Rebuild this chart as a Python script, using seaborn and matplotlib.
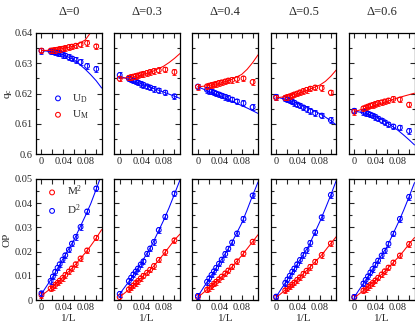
import matplotlib
matplotlib.use('Agg')
import matplotlib.pyplot as plt
import matplotlib.ticker as mticker
import seaborn as sns

deltas = ['0', '0.3', '0.4', '0.5', '0.6']

# 1/L of the simulated sizes (first point is the extrapolated one)
inv_L = [0, 0.0167, 0.0208, 0.025, 0.0294, 0.0333, 0.0385, 0.0435,
         0.05, 0.0556, 0.0625, 0.0714, 0.0833, 0.1]
fit_x = [0, 0.02, 0.04, 0.06, 0.08, 0.09, 0.10, 0.11]

# crossing points q_c from U_D (blue) and U_M (red)
qc_UD = [
    [0.6341, 0.6339, 0.6338, 0.6336, 0.6334, 0.6332, 0.6328, 0.6325, 0.6320, 0.6316, 0.6311, 0.6304, 0.6291, 0.6281],
    [0.6261, 0.6249, 0.6246, 0.6243, 0.6239, 0.6236, 0.6232, 0.6228, 0.6224, 0.6220, 0.6215, 0.6210, 0.6203, 0.6191],
    [0.6223, 0.6212, 0.6209, 0.6206, 0.6203, 0.6200, 0.6197, 0.6193, 0.6189, 0.6185, 0.6180, 0.6174, 0.6168, 0.6155],
    [0.6189, 0.6183, 0.6180, 0.6177, 0.6173, 0.6169, 0.6164, 0.6160, 0.6154, 0.6149, 0.6142, 0.6135, 0.6127, 0.6112],
    [0.6143, 0.6139, 0.6136, 0.6133, 0.6130, 0.6127, 0.6122, 0.6117, 0.6111, 0.6105, 0.6098, 0.6091, 0.6087, 0.6076],
]
qc_UM = [
    [0.6342, 0.6342, 0.6343, 0.6344, 0.6345, 0.6347, 0.6348, 0.6350, 0.6353, 0.6355, 0.6358, 0.6362, 0.6367, 0.6356],
    [0.6249, 0.6252, 0.6254, 0.6256, 0.6258, 0.6260, 0.6263, 0.6265, 0.6268, 0.6271, 0.6274, 0.6277, 0.6279, 0.6271],
    [0.6222, 0.6224, 0.6226, 0.6228, 0.6230, 0.6232, 0.6235, 0.6237, 0.6240, 0.6243, 0.6245, 0.6248, 0.6250, 0.6238],
    [0.6186, 0.6186, 0.6188, 0.6191, 0.6194, 0.6197, 0.6200, 0.6204, 0.6208, 0.6212, 0.6216, 0.6220, 0.6218, 0.6203],
    [0.6139, 0.6151, 0.6154, 0.6157, 0.6160, 0.6162, 0.6165, 0.6168, 0.6171, 0.6174, 0.6177, 0.6182, 0.6180, 0.6163],
]
qc_UD_fit = [
    [0.6342, 0.6338, 0.6328, 0.6311, 0.6280, 0.6262, 0.6242, 0.6218],
    [0.6257, 0.6245, 0.6232, 0.6218, 0.6205, 0.6198, 0.6191, 0.6184],
    [0.6222, 0.6207, 0.6192, 0.6176, 0.6160, 0.6152, 0.6143, 0.6134],
    [0.6188, 0.6180, 0.6167, 0.6152, 0.6133, 0.6122, 0.6110, 0.6096],
    [0.6142, 0.6135, 0.6123, 0.6104, 0.6078, 0.6063, 0.6047, 0.6030],
]
qc_UM_fit = [
    [0.6342, 0.6343, 0.6349, 0.6357, 0.6377, 0.6402, 0.6430, 0.6462],
    [0.6250, 0.6253, 0.6261, 0.6273, 0.6290, 0.6302, 0.6316, 0.6332],
    [0.6222, 0.6226, 0.6234, 0.6245, 0.6263, 0.6280, 0.6302, 0.6328],
    [0.6186, 0.6190, 0.6200, 0.6213, 0.6228, 0.6240, 0.6257, 0.6278],
    [0.6140, 0.6151, 0.6162, 0.6174, 0.6186, 0.6191, 0.6196, 0.6201],
]

# order parameters D^2 (blue) and M^2 (red)
op_D2 = [
    [0.0028, 0.0079, 0.0097, 0.0116, 0.0133, 0.0148, 0.0167, 0.0185, 0.0208, 0.0233, 0.0261, 0.0302, 0.0366, 0.0461],
    [0.0025, 0.0078, 0.0092, 0.0106, 0.0118, 0.0130, 0.0147, 0.0160, 0.0191, 0.0213, 0.0240, 0.0289, 0.0344, 0.0440],
    [0.0017, 0.0075, 0.0090, 0.0104, 0.0119, 0.0133, 0.0150, 0.0167, 0.0190, 0.0212, 0.0238, 0.0275, 0.0335, 0.0432],
    [0.0014, 0.0070, 0.0085, 0.0100, 0.0117, 0.0130, 0.0148, 0.0165, 0.0186, 0.0207, 0.0236, 0.0280, 0.0342, 0.0434],
    [0.0013, 0.0068, 0.0083, 0.0098, 0.0114, 0.0128, 0.0146, 0.0163, 0.0184, 0.0204, 0.0232, 0.0274, 0.0335, 0.0426],
]
op_M2 = [
    [0.0020, 0.0048, 0.0054, 0.0062, 0.0071, 0.0080, 0.0091, 0.0103, 0.0118, 0.0131, 0.0148, 0.0172, 0.0205, 0.0257],
    [0.0012, 0.0044, 0.0052, 0.0060, 0.0070, 0.0078, 0.0090, 0.0100, 0.0113, 0.0125, 0.0140, 0.0166, 0.0198, 0.0247],
    [0.0012, 0.0042, 0.0050, 0.0058, 0.0067, 0.0075, 0.0086, 0.0097, 0.0110, 0.0122, 0.0138, 0.0160, 0.0192, 0.0241],
    [0.0011, 0.0040, 0.0048, 0.0056, 0.0064, 0.0072, 0.0083, 0.0094, 0.0108, 0.0121, 0.0137, 0.0158, 0.0186, 0.0234],
    [0.0010, 0.0039, 0.0046, 0.0054, 0.0062, 0.0070, 0.0081, 0.0092, 0.0106, 0.0119, 0.0134, 0.0155, 0.0184, 0.0231],
]
op_D2_fit = [
    [0.0025, 0.0094, 0.0173, 0.0251, 0.0347, 0.0398, 0.0458, 0.0520],
    [0.0025, 0.0086, 0.0155, 0.0233, 0.0328, 0.0380, 0.0437, 0.0495],
    [0.0015, 0.0086, 0.0156, 0.0228, 0.0317, 0.0373, 0.0432, 0.0488],
    [0.0013, 0.0082, 0.0153, 0.0225, 0.0324, 0.0378, 0.0434, 0.0494],
    [0.0012, 0.0080, 0.0151, 0.0221, 0.0318, 0.0370, 0.0426, 0.0485],
]
op_M2_fit = [
    [0.0018, 0.0053, 0.0096, 0.0141, 0.0195, 0.0224, 0.0256, 0.0291],
    [0.0012, 0.0049, 0.0093, 0.0134, 0.0189, 0.0218, 0.0248, 0.0272],
    [0.0011, 0.0049, 0.0089, 0.0131, 0.0183, 0.0212, 0.0241, 0.0270],
    [0.0010, 0.0047, 0.0087, 0.0131, 0.0178, 0.0205, 0.0234, 0.0262],
    [0.0009, 0.0045, 0.0085, 0.0128, 0.0176, 0.0202, 0.0231, 0.0258],
]
qc_err = 0.0009
op_err = 0.0011

BLUE = '#0000ff'
RED = '#ff0000'


def draw_series(ax, x, y, err, fx, fy, color, label=None):
    sns.lineplot(x=fx, y=fy, ax=ax, color=color, linewidth=0.75, sort=False, estimator=None)
    ax.errorbar(x, y, yerr=err, fmt='none', ecolor=color, elinewidth=0.6, capsize=1.4, capthick=0.6)
    sns.scatterplot(x=x, y=y, ax=ax, marker='o', s=12, fc='none', ec=color, linewidth=0.75,
                    label=label, legend=False)


def style_axes(ax, yticks, ylabels, ylim, show_y):
    ax.set_xlim(-0.01, 0.11)
    ax.set_ylim(*ylim)
    ax.set_xticks([0, 0.02, 0.04, 0.06, 0.08, 0.10])
    ax.set_xticklabels(['0', '', '0.04', '', '0.08', ''])
    ax.set_yticks(yticks)
    ax.yaxis.set_minor_locator(mticker.MultipleLocator(0.005))
    if show_y:
        ax.set_yticklabels(ylabels)
    else:
        ax.set_yticklabels([])
    ax.tick_params(which='both', direction='in', top=True, right=True, width=0.8,
                   labelsize=7.5, pad=2.5)
    ax.tick_params(which='major', length=3.6)
    ax.tick_params(which='minor', length=2.2)
    for sp in ax.spines.values():
        sp.set_linewidth(0.9)
        sp.set_color('black')
    ax.set_xlabel('')
    ax.set_ylabel('')


def main():
    sns.set_style('ticks')
    plt.rcParams['font.family'] = ['Liberation Serif', 'DejaVu Serif']
    plt.rcParams['mathtext.fontset'] = 'custom'
    plt.rcParams['mathtext.rm'] = 'Liberation Serif'
    plt.rcParams['mathtext.it'] = 'Liberation Serif:italic'

    W, H = 415, 323
    fig = plt.figure(figsize=(W / 100, H / 100), dpi=100)

    qc_ticks = [0.6, 0.61, 0.62, 0.63, 0.64]
    qc_labels = ['0.6', '0.61', '0.62', '0.63', '0.64']
    op_ticks = [0, 0.01, 0.02, 0.03, 0.04, 0.05]
    op_labels = ['0', '0.01', '0.02', '0.03', '0.04', '0.05']

    for i, d in enumerate(deltas):
        left = (36 + 78.2 * i) / W
        ax_t = fig.add_axes([left, 1 - 154 / H, 65.7 / W, 121 / H])
        ax_b = fig.add_axes([left, 1 - 300 / H, 65.7 / W, 121 / H])

        first = (i == 0)
        draw_series(ax_t, inv_L, qc_UD[i], qc_err, fit_x, qc_UD_fit[i], BLUE,
                    r'U$_\mathrm{D}$' if first else None)
        draw_series(ax_t, inv_L, qc_UM[i], qc_err, fit_x, qc_UM_fit[i], RED,
                    r'U$_\mathrm{M}$' if first else None)
        draw_series(ax_b, inv_L, op_M2[i], op_err, fit_x, op_M2_fit[i], RED,
                    r'M$^2$' if first else None)
        draw_series(ax_b, inv_L, op_D2[i], op_err, fit_x, op_D2_fit[i], BLUE,
                    r'D$^2$' if first else None)

        style_axes(ax_t, qc_ticks, qc_labels, (0.6, 0.64), first)
        style_axes(ax_b, op_ticks, op_labels, (0, 0.05), first)

        ax_t.set_title('\u0394=' + d, fontsize=9, pad=13)
        ax_b.set_xlabel('1/L', fontsize=8, labelpad=1)

        if first:
            ax_t.set_ylabel(r'q$_\mathrm{c}$', fontsize=8)
            ax_t.yaxis.set_label_coords(-0.34, 0.5)
            ax_b.set_ylabel('OP', fontsize=8)
            ax_b.yaxis.set_label_coords(-0.37, 0.5)
            ax_t.legend(loc='upper left', bbox_to_anchor=(0.25, 0.51), frameon=False,
                        fontsize=8, handlelength=1.0, handletextpad=0.8,
                        labelspacing=0.35, borderaxespad=0, borderpad=0)
            ax_b.legend(loc='upper left', bbox_to_anchor=(0.16, 0.96), frameon=False,
                        fontsize=8, handlelength=1.0, handletextpad=0.8,
                        labelspacing=0.35, borderaxespad=0, borderpad=0)

    fig.savefig('out.png', dpi=100)
    plt.close(fig)


if __name__ == '__main__':
    main()
